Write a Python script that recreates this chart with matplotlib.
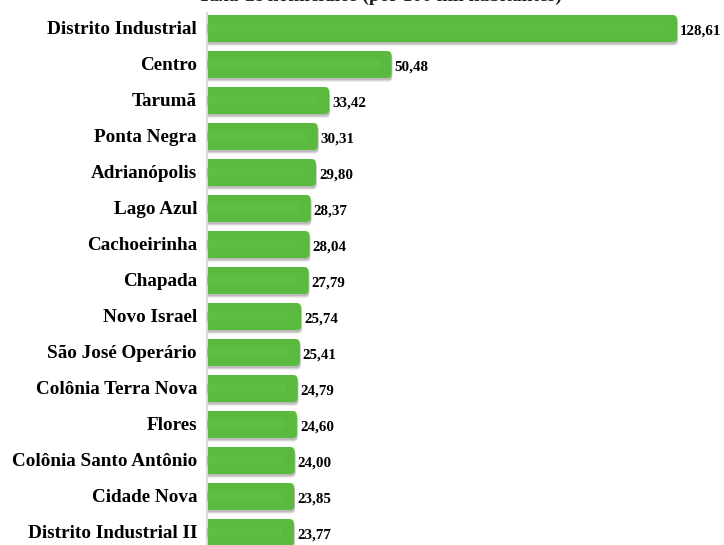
import matplotlib
matplotlib.use("Agg")
import matplotlib.pyplot as plt
from matplotlib.patches import FancyBboxPatch

bairros = ["Distrito Industrial", "Centro", "Tarumã", "Ponta Negra", "Adrianópolis",
           "Lago Azul", "Cachoeirinha", "Chapada", "Novo Israel", "São José Operário",
           "Colônia Terra Nova", "Flores", "Colônia Santo Antônio", "Cidade Nova",
           "Distrito Industrial II"]
taxas = [128.61, 50.48, 33.42, 30.31, 29.80, 28.37, 28.04, 27.79, 25.74, 25.41,
         24.79, 24.60, 24.00, 23.85, 23.77]
titulo = "Taxa de homicídios (por 100 mil habitantes)"

W, H = 724, 545
verde = "#5bb93f"
verde_claro = "#63c046"

plt.rcParams["font.family"] = ["Liberation Serif", "DejaVu Serif"]
fig = plt.figure(figsize=(W / 100, H / 100), dpi=100)
fig.patch.set_facecolor("white")

# axes from x=207px to the right edge, y from 13px to the bottom
ax = fig.add_axes([207 / W, 0, 1 - 207 / W, 1 - 13 / H])
px_x = 3.655                      # pixels per unit
ax.set_xlim(0, (W - 207) / px_x)
ax.set_ylim((H - 28.5) / 36, (13 - 28.5) / 36)

ax.set_xticks([])
ax.set_yticks([])
for s in ["top", "right", "bottom"]:
    ax.spines[s].set_visible(False)
ax.spines["left"].set_color("#d9d9d9")
ax.spines["left"].set_linewidth(1.5)

altura = 0.75
ux = 1 / px_x                     # data units per pixel, x
uy = 1 / 36                       # data units per pixel, y
r = 4.5 * ux
aspecto = uy / ux

for i, (nome, v) in enumerate(zip(bairros, taxas)):
    y0 = i - altura / 2
    # soft shadow under each bar
    for k, a in [(4.0, 0.11), (3.0, 0.15), (2.0, 0.20)]:
        sombra = FancyBboxPatch((-3, y0 + k * uy), v + 3 + 0.8 * ux, altura,
                                boxstyle=f"round,pad=0,rounding_size={r}",
                                mutation_aspect=aspecto,
                                fc="#555555", ec="none", alpha=a, zorder=1)
        ax.add_patch(sombra)
    barra = FancyBboxPatch((-3, y0), v + 3, altura,
                           boxstyle=f"round,pad=0,rounding_size={r}",
                           mutation_aspect=aspecto,
                           fc=verde, ec="none", zorder=2)
    ax.add_patch(barra)
    # lighter band along the middle of the bar
    ax.barh(i, max(v - 12 * ux, 0), height=altura * 0.35, left=0,
            color=verde_claro, alpha=0.6, zorder=3)

    ax.text(v + 3 * ux, i + 2.5 * uy, f"{v:.2f}".replace(".", ","),
            ha="left", va="center", fontsize=10.8, fontweight="bold", zorder=4)
    ax.text(-10 * ux, i + 1 * uy, nome, ha="right", va="center", fontsize=13.8,
            fontweight="bold", clip_on=False, zorder=4)

fig.text(380 / W, 1 - 1 / H, titulo, ha="center", va="baseline",
         fontsize=14, fontweight="bold", color="#222222")

fig.savefig("out.png", dpi=100, facecolor="white")
